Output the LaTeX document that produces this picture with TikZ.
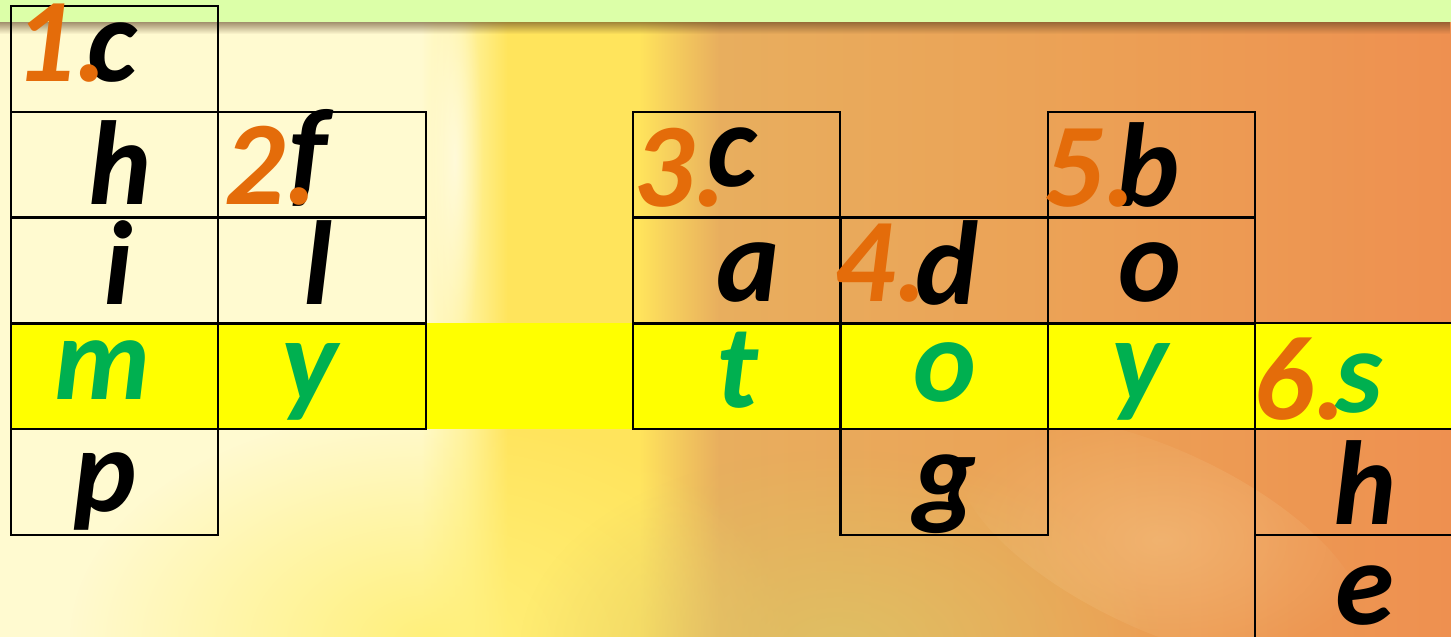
\documentclass[tikz,border=0pt]{standalone}
\usepackage{fontspec}
\setmainfont{Carlito}
\usepackage{xcolor}
\usepackage{tikz}
\usetikzlibrary{positioning, fadings}
\definecolor{bandgreen}{HTML}{DCFFA8}
\definecolor{bgcream}{HTML}{FFFAD0}
\definecolor{bglight}{HTML}{FFF3A0}
\definecolor{bgyellow}{HTML}{FFE45C}
\definecolor{bgtan}{HTML}{E8AE5E}
\definecolor{bgmid}{HTML}{ECA055}
\definecolor{bgorange}{HTML}{EE9050}
\definecolor{bgbottom}{HTML}{DEC264}
\definecolor{bgsun}{HTML}{FFF07A}
\definecolor{bgpeach}{HTML}{F6CC90}
\definecolor{rowyellow}{HTML}{FFFF00}
\definecolor{wordgreen}{HTML}{00B050}
\definecolor{cluenum}{HTML}{E46C0A}
\pgfdeclarehorizontalshading{bgshade}{100bp}{color(0bp)=(bgcream); color(39.5bp)=(bgcream); color(41bp)=(bglight); color(42.5bp)=(bgyellow); color(47bp)=(bgyellow); color(49.8bp)=(bgtan); color(63bp)=(bgmid); color(75bp)=(bgorange); color(100bp)=(bgorange)}
\tikzfading[name=softblob, inner color=transparent!0, outer color=transparent!100]

\begin{document}
\begin{tikzpicture}[x=0.01cm, y=-0.01cm,
    cell/.style={draw=black, line width=0.6pt, minimum width=2.07cm, minimum height=1.06cm, inner sep=0pt},
    ltr/.style={anchor=base, inner sep=0pt, font=\fontsize{34}{34}\selectfont\bfseries\itshape},
    solved/.style={ltr, text=wordgreen},
    cluenr/.style={ltr, anchor=base west, text=cluenum}]
    \useasboundingbox (0,0) rectangle (1451,637);

    % Background
    \shade[shading=bgshade] (0,0) rectangle (1451,637);
    \fill[bgsun, path fading=softblob] (430,640) ellipse (360 and 230);
    \fill[bgbottom, path fading=softblob, opacity=0.9] (840,650) ellipse (320 and 200);
    \fill[bgpeach, path fading=softblob, opacity=0.45, rotate around={-25:(1160,540)}] (1160,540) ellipse (220 and 90);
    \fill[white, path fading=softblob, opacity=0.55] (455,160) ellipse (28 and 200);
    \fill[bandgreen] (0,0) rectangle (1451,22);
    \fill[black!55!brown, path fading=south, opacity=0.55] (0,22) rectangle (1451,34);

    % Highlighted row
    \fill[rowyellow] (11,323) rectangle (1451,429);

    % Column 1
    \node[cell] (chimp1) at (114.5,59) {};
    \node[cell] (chimp2) at (114.5,165) {};
    \node[cell] (chimp3) at (114.5,270.5) {};
    \node[cell] (chimp4) at (114.5,376) {};
    \node[cell] (chimp5) at (114.5,482) {};
    \node[ltr] (lc1) at (112,82) {c};
    \node[ltr] (lh1) at (120,205) {h};
    \node[ltr] (li1) at (118,305) {i};
    \node[solved] (lm1) at (103,400) {m};
    \node[ltr] (lp1) at (105,512) {p};

    % Column 2
    \node[cell] (fly1) at (322,165) {};
    \node[cell] (fly2) at (322,270.5) {};
    \node[cell] (fly3) at (322,376) {};
    \node[ltr] (lf2) at (308,193) {f};
    \node[ltr] (ll2) at (318,305) {l};
    \node[solved] (ly2) at (310,402) {y};

    % Column 4
    \node[cell] (cat1) at (736.5,165) {};
    \node[cell] (cat2) at (736.5,270.5) {};
    \node[cell] (cat3) at (736.5,376) {};
    \node[ltr] (lc4) at (732,187) {c};
    \node[ltr] (la4) at (748,302) {a};
    \node[solved] (lt4) at (737,408) {t};

    % Column 5
    \node[cell] (dog1) at (944,270.5) {};
    \node[cell] (dog2) at (944,376) {};
    \node[cell] (dog3) at (944,482) {};
    \node[ltr] (ld5) at (947,305) {d};
    \node[solved] (lo5) at (945,402) {o};
    \node[ltr] (lg5) at (945,514) {g};

    % Column 6
    \node[cell] (boy1) at (1151.5,165) {};
    \node[cell] (boy2) at (1151.5,270.5) {};
    \node[cell] (boy3) at (1151.5,376) {};
    \node[ltr] (lb6) at (1148,207) {b};
    \node[ltr] (lo6) at (1150,302) {o};
    \node[solved] (ly6) at (1140,402) {y};

    % Column 7
    \node[cell] (she1) at (1358.5,376) {};
    \node[cell] (she2) at (1358.5,482) {};
    \node[cell] (she3) at (1358.5,588) {};
    \node[solved] (ls7) at (1359,413) {s};
    \node[ltr] (lh7) at (1365,525) {h};
    \node[ltr] (le7) at (1365,625) {e};

    % Clue numbers
    \node[cluenr] (n1) at (14,82) {1.};
    \node[cluenr] (n2) at (224,205) {2.};
    \node[cluenr] (n3) at (633,207) {3.};
    \node[cluenr] (n4) at (834,302) {4.};
    \node[cluenr] (n5) at (1043,207) {5.};
    \node[cluenr] (n6) at (1253,420) {6.};
\end{tikzpicture}
\end{document}
